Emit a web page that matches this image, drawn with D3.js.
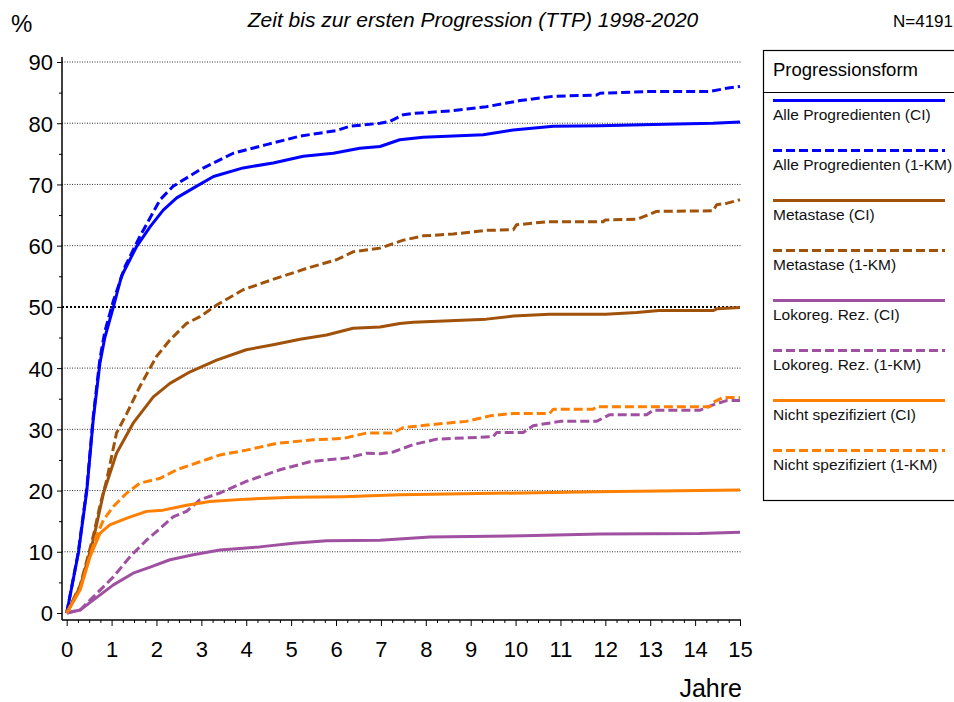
<!DOCTYPE html>
<html>
<head>
<meta charset="utf-8">
<script src="https://cdn.jsdelivr.net/npm/d3@7"></script>
<style>
  body { margin: 0; background: #fff; }
  svg { font-family: "Liberation Sans", Arial, sans-serif; display: block; }
</style>
</head>
<body>
<svg id="svg" width="954" height="702"></svg>
<script>
// years since diagnosis, percent progressed
const xTicks = d3.range(0, 16);
const yTicks = d3.range(0, 100, 10);

const alleCI = [[0,0],[0.26,9.8],[0.45,20.1],[0.59,31.5],[0.74,40.8],[0.85,45],[1.04,50],[1.22,55],[1.56,59.9],[1.86,63.1],[2.15,65.8],[2.45,67.8],[2.82,69.4],[3.27,71.3],[3.93,72.7],[4.6,73.5],[5.27,74.6],[5.94,75.1],[6.53,75.9],[6.98,76.2],[7.42,77.3],[7.94,77.7],[9.28,78.1],[9.95,78.9],[10.84,79.5],[11.88,79.6],[13.06,79.8],[14.4,80.0],[15,80.2]];
const alleKM = [[0,0],[0.26,10],[0.45,20.5],[0.59,32],[0.74,41.5],[0.85,46],[1.04,51],[1.3,56.6],[1.63,61.5],[2.08,67.5],[2.37,69.7],[2.97,72.4],[3.71,75.1],[4.45,76.5],[5.2,77.9],[6.01,78.8],[6.31,79.5],[6.98,80.0],[7.2,80.3],[7.5,81.4],[7.72,81.6],[8.54,82.0],[9.35,82.7],[10.1,83.7],[10.84,84.4],[11.8,84.6],[11.88,84.9],[13.06,85.2],[14.33,85.2],[14.7,85.7],[15,86.0]];
const metaCI = [[0,0],[0.3,4.3],[0.45,8.2],[0.59,11.9],[0.82,19.6],[1.11,26.1],[1.48,31.0],[1.93,35.3],[2.3,37.5],[2.75,39.4],[3.34,41.3],[4.0,43.0],[4.6,43.8],[5.2,44.7],[5.79,45.4],[6.38,46.5],[6.98,46.7],[7.42,47.3],[7.72,47.5],[9.35,48.0],[9.95,48.5],[10.76,48.8],[12.0,48.8],[12.7,49.1],[13.2,49.4],[14.4,49.4],[14.5,49.7],[15,49.9]];
const metaKM = [[0,0],[0.3,4.5],[0.45,8.6],[0.59,12.5],[0.74,17.5],[0.89,21.7],[1.11,29.4],[1.34,32.6],[1.63,37.0],[2.0,41.9],[2.3,44.6],[2.67,47.3],[2.97,48.4],[3.34,50.3],[3.93,52.8],[4.68,54.7],[5.35,56.3],[6.01,57.7],[6.38,59.0],[6.98,59.6],[7.5,60.9],[7.94,61.6],[8.61,61.9],[9.35,62.5],[9.95,62.6],[10.02,63.4],[10.69,63.9],[11.95,63.9],[12.0,64.2],[12.7,64.3],[13.14,65.6],[14.4,65.7],[14.48,66.7],[14.7,66.9],[15,67.5]];
const lokoCI = [[0,0],[0.3,0.5],[0.59,2.1],[1.04,4.6],[1.48,6.5],[1.86,7.5],[2.3,8.7],[2.82,9.5],[3.41,10.3],[4.3,10.8],[5.05,11.4],[5.79,11.8],[6.98,11.9],[8.09,12.4],[10.17,12.6],[11.88,12.9],[14.1,13.0],[15,13.2]];
const lokoKM = [[0,0],[0.3,0.5],[0.67,3.2],[1.04,5.9],[1.41,9.2],[1.78,11.9],[2.08,13.8],[2.37,15.7],[2.67,16.6],[2.97,18.5],[3.41,19.6],[4.0,21.5],[4.75,23.4],[5.42,24.7],[5.79,25.0],[6.24,25.3],[6.68,26.1],[6.98,26.0],[7.27,26.3],[7.72,27.5],[8.24,28.4],[9.5,28.8],[9.58,29.5],[10.17,29.5],[10.39,30.6],[10.99,31.3],[11.8,31.3],[12.1,32.4],[12.92,32.4],[13.06,33.1],[14.1,33.1],[14.4,34.0],[14.7,34.7],[15,34.7]];
const nichtCI = [[0,0],[0.3,3.8],[0.52,9.2],[0.74,13.0],[0.96,14.4],[1.34,15.5],[1.78,16.6],[2.15,16.8],[2.67,17.6],[3.19,18.2],[4.0,18.6],[5.05,18.9],[6.16,19.0],[7.42,19.3],[11.8,19.8],[15,20.1]];
const nichtKM = [[0,0],[0.3,3.9],[0.52,9.4],[0.66,12.5],[0.82,15.2],[1.04,17.4],[1.34,19.6],[1.63,21.2],[2.08,22.0],[2.45,23.4],[2.97,24.7],[3.41,25.8],[4.0,26.6],[4.68,27.7],[5.49,28.3],[6.16,28.5],[6.68,29.4],[7.27,29.4],[7.5,30.3],[8.31,30.9],[8.9,31.3],[9.43,32.2],[9.95,32.6],[10.76,32.6],[10.84,33.3],[11.73,33.3],[11.8,33.7],[14.33,33.7],[14.4,34.4],[14.62,35.2],[15,35.2]];

const seriesNames = ["Alle Progredienten (CI)", "Alle Progredienten (1-KM)", "Metastase (CI)", "Metastase (1-KM)",
  "Lokoreg. Rez. (CI)", "Lokoreg. Rez. (1-KM)", "Nicht spezifiziert (CI)", "Nicht spezifiziert (1-KM)"];
const seriesData = [alleCI, alleKM, metaCI, metaKM, lokoCI, lokoKM, nichtCI, nichtKM];
const seriesColors = ["#0000ff", "#0000ff", "#a0520a", "#a0520a", "#a050a0", "#a050a0", "#ff7f00", "#ff7f00"];
const seriesDashed = [false, true, false, true, false, true, false, true];

const svg = d3.select("#svg");

const x = d3.scaleLinear().domain([0, 15]).range([66.7, 740]);
const y = d3.scaleLinear().domain([0, 90]).range([613, 62]);

// gridlines
svg.append("g")
  .selectAll("line")
  .data(yTicks.filter((d) => d > 0))
  .join("line")
  .attr("x1", 62)
  .attr("x2", 742)
  .attr("y1", (d) => y(d))
  .attr("y2", (d) => y(d))
  .attr("stroke", (d) => d === 50 ? "#000" : "#333")
  .attr("stroke-width", (d) => d === 50 ? 2 : 1)
  .attr("stroke-dasharray", (d) => d === 50 ? "2,2" : "1,1.5");

// y axis
const yAxis = svg.append("g")
  .attr("transform", "translate(62,0)")
  .call(d3.axisLeft(y).tickValues(yTicks).tickSize(5).tickSizeOuter(0));
yAxis.select(".domain").attr("d", "M0,57V620").attr("stroke-width", 1.5);
yAxis.selectAll("text").style("font-size", "22px").attr("x", -9).attr("dy", "0.36em");
svg.append("g")
  .attr("transform", "translate(62,0)")
  .call(d3.axisLeft(y).tickValues(d3.range(5, 90, 10)).tickSize(3).tickFormat(""))
  .select(".domain").remove();

// x axis
const xAxis = svg.append("g")
  .attr("transform", "translate(0,620)")
  .call(d3.axisBottom(x).tickValues(xTicks).tickSize(6).tickSizeOuter(0));
xAxis.select(".domain").attr("d", "M62,0H741").attr("stroke-width", 1.5);
xAxis.selectAll("text").style("font-size", "22px").attr("y", 37).attr("dy", 0);
svg.append("g")
  .attr("transform", "translate(0,620)")
  .call(d3.axisBottom(x).tickValues(d3.range(0, 15.01, 0.25).filter((d) => d % 1 !== 0)).tickSize(3).tickFormat(""))
  .select(".domain").remove();

// curves
const line = d3.line().x((d) => x(d[0])).y((d) => y(d[1]));
svg.append("g")
  .selectAll("path")
  .data(seriesData)
  .join("path")
  .attr("d", line)
  .attr("fill", "none")
  .attr("stroke", (d, i) => seriesColors[i])
  .attr("stroke-width", 3)
  .attr("stroke-linejoin", "round")
  .attr("stroke-dasharray", (d, i) => seriesDashed[i] ? "9,4" : null);

// titles
svg.append("text").attr("x", 11).attr("y", 32).style("font-size", "24px").text("%");
svg.append("text").attr("x", 473).attr("y", 27).attr("text-anchor", "middle")
  .style("font-size", "21px").style("font-style", "italic")
  .text("Zeit bis zur ersten Progression (TTP) 1998-2020");
svg.append("text").attr("x", 953).attr("y", 27).attr("text-anchor", "end")
  .style("font-size", "17px").text("N=4191");
svg.append("text").attr("x", 742).attr("y", 697).attr("text-anchor", "end")
  .style("font-size", "25px").text("Jahre");

// legend
const legend = svg.append("g");
legend.append("rect").attr("x", 763.5).attr("y", 50.5).attr("width", 200).attr("height", 450)
  .attr("fill", "none").attr("stroke", "#000").attr("stroke-width", 1.2);
legend.append("text").attr("x", 773).attr("y", 76).style("font-size", "18.5px").text("Progressionsform");
legend.append("line").attr("x1", 763).attr("x2", 954).attr("y1", 92.5).attr("y2", 92.5)
  .attr("stroke", "#000").attr("stroke-width", 1.2);

const item = legend.selectAll(".item")
  .data(seriesNames)
  .join("g")
  .attr("class", "item")
  .attr("transform", (d, i) => "translate(773," + (100.5 + i * 50) + ")");
item.append("line")
  .attr("x1", 0).attr("x2", 172)
  .attr("stroke", (d, i) => seriesColors[i])
  .attr("stroke-width", 3)
  .attr("stroke-dasharray", (d, i) => seriesDashed[i] ? "9,4" : null);
item.append("text")
  .attr("y", 19.5)
  .style("font-size", "15.5px")
  .attr("fill", "#111")
  .text((d) => d);
</script>
</body>
</html>
